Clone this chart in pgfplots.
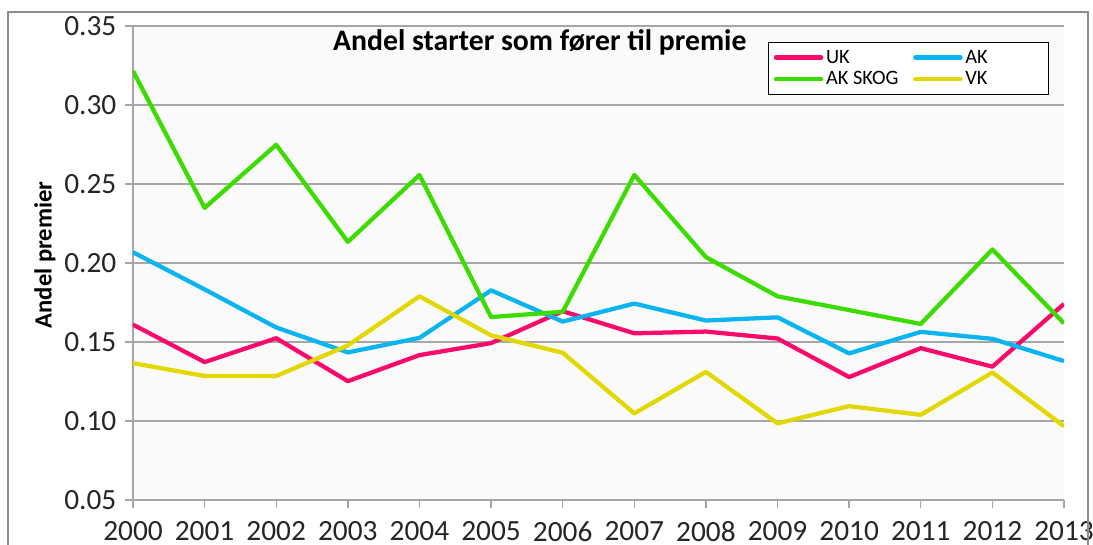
\documentclass[border=0pt]{standalone}
\usepackage{pgfplots}
\pgfplotsset{compat=1.18}
\usepackage{fontspec}
\setmainfont{Carlito}

\definecolor{ukpink}{HTML}{FA0A6A}
\definecolor{akblue}{HTML}{0AB4F0}
\definecolor{skoggreen}{HTML}{3CDC00}
\definecolor{vkyellow}{HTML}{E2D800}
\definecolor{plotbg}{HTML}{FAFAFA}
\definecolor{gridgray}{HTML}{A6A6A6}
\definecolor{framegray}{HTML}{8C8C8C}

\begin{document}
\begin{tikzpicture}
\begin{axis}[
    scale only axis,
    width=698.25pt, height=355.5pt,
    xmin=2000, xmax=2013,
    ymin=0.05, ymax=0.35,
    xtick={2000,2001,...,2013},
    ytick={0.05,0.10,0.15,0.20,0.25,0.30,0.35},
    axis x line*=bottom, axis y line*=left,
    axis line style={draw=gridgray, line width=1pt, -},
    axis background/.style={fill=plotbg},
    ymajorgrids,
    grid style={draw=gridgray, line width=1pt},
    tick align=outside,
    major tick length=6pt,
    tick style={draw=gridgray, line width=1pt},
    /pgf/number format/assume math mode=true,
    x tick label style={/pgf/number format/1000 sep={}},
    y tick label style={/pgf/number format/.cd, fixed, fixed zerofill, precision=2},
    ticklabel style={font=\fontsize{22}{24}\selectfont, text=black!85},
    xticklabel shift=6.5pt,
    yticklabel shift=3pt,
    ylabel={Andel premier},
    ylabel style={at={(axis description cs:-0.0945,0.517)}, anchor=center,
        font=\bfseries\fontsize{18.5}{20}\selectfont},
    title={Andel starter som fører til premie},
    title style={at={(axis description cs:0.437,0.949)}, anchor=center,
        font=\bfseries\fontsize{22.3}{24}\selectfont},
    legend columns=2,
    legend cell align=left,
    legend style={at={(axis description cs:0.682,0.966)}, anchor=north west,
        draw=black, line width=0.8pt, fill=white,
        font=\fontsize{15.3}{17}\selectfont,
        inner xsep=4pt, inner ysep=3.5pt,
        row sep=1pt,
        /tikz/every even column/.append style={column sep=9pt}},
    legend image code/.code={\draw[line width=3.2pt, line cap=round] (0pt,0pt) -- (34pt,0pt);},
    every axis plot/.append style={line width=3.2pt, line join=round},
]
\addplot[ukpink] coordinates {
    (2000,0.1610)(2001,0.1373)(2002,0.1524)(2003,0.1252)(2004,0.1417)
    (2005,0.1493)(2006,0.1695)(2007,0.1555)(2008,0.1566)(2009,0.1522)
    (2010,0.1278)(2011,0.1461)(2012,0.1344)(2013,0.1741)
};
\addplot[akblue] coordinates {
    (2000,0.2068)(2001,0.1833)(2002,0.1592)(2003,0.1434)(2004,0.1526)
    (2005,0.1827)(2006,0.1629)(2007,0.1743)(2008,0.1636)(2009,0.1656)
    (2010,0.1428)(2011,0.1564)(2012,0.1520)(2013,0.1379)
};
\addplot[skoggreen] coordinates {
    (2000,0.3215)(2001,0.2349)(2002,0.2748)(2003,0.2134)(2004,0.2557)
    (2005,0.1658)(2006,0.1691)(2007,0.2557)(2008,0.2037)(2009,0.1789)
    (2010,0.1702)(2011,0.1614)(2012,0.2086)(2013,0.1618)
};
\addplot[vkyellow] coordinates {
    (2000,0.1366)(2001,0.1285)(2002,0.1285)(2003,0.1478)(2004,0.1789)
    (2005,0.1542)(2006,0.1432)(2007,0.1048)(2008,0.1311)(2009,0.0985)
    (2010,0.1094)(2011,0.1039)(2012,0.1307)(2013,0.0967)
};
\legend{UK, \makebox[56pt][l]{AK}, AK SKOG, VK}
\end{axis}
% outer chart frame, cut off at the bottom like the reference
\draw[framegray, line width=1.2pt] (-93.75pt,-45pt) -- (-93.75pt,366pt) -- (716.25pt,366pt) -- (716.25pt,-45pt);
\pgfresetboundingbox
\path (-99.75pt,-33pt) rectangle (720pt,375pt);
\end{tikzpicture}
\end{document}
